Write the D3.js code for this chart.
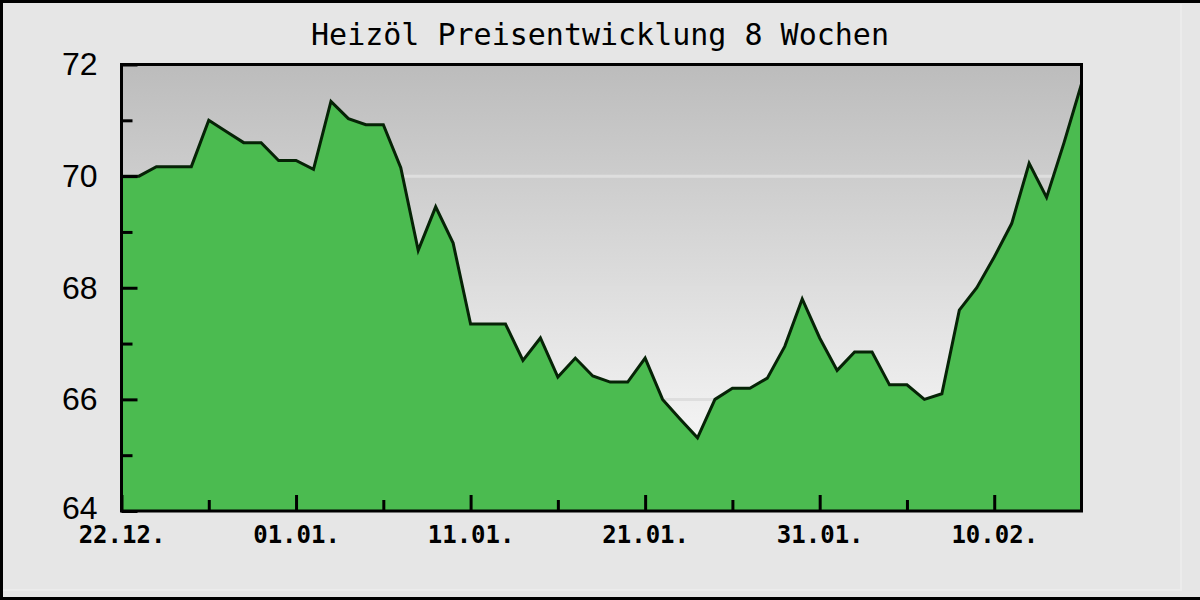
<!DOCTYPE html>
<html>
<head>
<meta charset="utf-8">
<script src="https://cdn.jsdelivr.net/npm/d3@7"></script>
<style>
  html, body { margin: 0; padding: 0; background: #e6e6e6; overflow: hidden; }
</style>
</head>
<body>
<div id="chart"></div>
<script>
const title = 'Heizöl Preisentwicklung 8 Wochen'

// Tage (8 Wochen) und Heizölpreise
const days = [
  '2012-12-22', '2012-12-23', '2012-12-24', '2012-12-25', '2012-12-26', '2012-12-27', '2012-12-28',
  '2012-12-29', '2012-12-30', '2012-12-31', '2013-01-01', '2013-01-02', '2013-01-03', '2013-01-04',
  '2013-01-05', '2013-01-06', '2013-01-07', '2013-01-08', '2013-01-09', '2013-01-10', '2013-01-11',
  '2013-01-12', '2013-01-13', '2013-01-14', '2013-01-15', '2013-01-16', '2013-01-17', '2013-01-18',
  '2013-01-19', '2013-01-20', '2013-01-21', '2013-01-22', '2013-01-23', '2013-01-24', '2013-01-25',
  '2013-01-26', '2013-01-27', '2013-01-28', '2013-01-29', '2013-01-30', '2013-01-31', '2013-02-01',
  '2013-02-02', '2013-02-03', '2013-02-04', '2013-02-05', '2013-02-06', '2013-02-07', '2013-02-08',
  '2013-02-09', '2013-02-10', '2013-02-11', '2013-02-12', '2013-02-13', '2013-02-14', '2013-02-15'
]
const prices = [
  70.00, 70.00, 70.17, 70.17, 70.17, 71.00, 70.80,
  70.60, 70.60, 70.28, 70.28, 70.12, 71.34, 71.03,
  70.92, 70.92, 70.15, 68.67, 69.45, 68.80, 67.35,
  67.35, 67.35, 66.70, 67.10, 66.40, 66.74, 66.42,
  66.31, 66.31, 66.74, 66.00, 65.65, 65.31, 66.00,
  66.20, 66.20, 66.38, 66.95, 67.80, 67.10, 66.52,
  66.85, 66.85, 66.26, 66.26, 66.00, 66.10, 67.60,
  68.00, 68.55, 69.15, 70.23, 69.62, 70.60, 71.65
]

const yTicks = [64, 66, 68, 70, 72]
const yMinorTicks = [65, 67, 69, 71]
const yGrid = [66, 68, 70]
const xTicks = ['2012-12-22', '2013-01-01', '2013-01-11', '2013-01-21', '2013-01-31', '2013-02-10']
const xMinorTicks = ['2012-12-27', '2013-01-06', '2013-01-16', '2013-01-26', '2013-02-05']

const width = 1200
const height = 600
const plot = { left: 121.5, top: 64.5, right: 1081.5, bottom: 511 }

const parse = d3.timeParse('%Y-%m-%d')
const data = days.map((d, i) => ({ date: parse(d), value: prices[i] }))

const svg = d3.select('#chart')
  .append('svg')
  .attr('width', width)
  .attr('height', height)

// Rahmen des Bildes
svg.append('rect')
  .attr('width', width)
  .attr('height', height)
  .style('fill', '#e6e6e6')
svg.append('path')
  .attr('d', `M1181,4 V590 H3`)
  .style('fill', 'none')
  .style('stroke', '#ececec')
  .style('stroke-width', '2px')
svg.append('path')
  .attr('d', `M${width},1.5 H1.5 V598.5 H${width}`)
  .style('fill', 'none')
  .style('stroke', '#000')
  .style('stroke-width', '3px')

// Titel
svg.append('text')
  .attr('x', 600)
  .attr('y', 45)
  .attr('text-anchor', 'middle')
  .style('font-family', '"DejaVu Sans Mono", monospace')
  .style('font-size', '30px')
  .style('fill', '#000')
  .text(title)

const x = d3.scaleTime()
  .domain([parse(days[0]), parse(days[days.length - 1])])
  .range([plot.left, plot.right])
const y = d3.scaleLinear()
  .domain([64, 72])
  .range([plot.bottom, plot.top])

// Hintergrund mit Verlauf
const grad = svg.append('defs')
  .append('linearGradient')
  .attr('id', 'bg')
  .attr('x1', 0).attr('y1', 0).attr('x2', 0).attr('y2', 1)
grad.append('stop').attr('offset', '0%').attr('stop-color', '#bcbcbc')
grad.append('stop').attr('offset', '100%').attr('stop-color', '#ffffff')

svg.append('rect')
  .attr('x', plot.left)
  .attr('y', plot.top)
  .attr('width', plot.right - plot.left)
  .attr('height', plot.bottom - plot.top)
  .style('fill', 'url(#bg)')

// Gitterlinien
svg.append('g')
  .selectAll('line')
  .data(yGrid)
  .join('line')
  .attr('x1', plot.left)
  .attr('x2', plot.right)
  .attr('y1', d => y(d))
  .attr('y2', d => y(d))
  .style('stroke', '#dedede')
  .style('stroke-width', '3px')

// Fläche und Linie
const area = d3.area()
  .x(d => x(d.date))
  .y0(y(64))
  .y1(d => y(d.value))
const line = d3.line()
  .x(d => x(d.date))
  .y(d => y(d.value))

svg.append('path')
  .attr('d', area(data))
  .style('fill', '#4bbb50')
svg.append('path')
  .attr('d', line(data))
  .style('fill', 'none')
  .style('stroke', '#062306')
  .style('stroke-width', '3px')
  .style('stroke-linejoin', 'miter')

// Achsen
const fmt = d3.timeFormat('%d.%m.')
const xAxis = d3.axisBottom(x)
  .tickValues(xTicks.map(parse))
  .tickFormat(fmt)
  .tickSize(-16)
  .tickPadding(15)
const xMinor = d3.axisBottom(x)
  .tickValues(xMinorTicks.map(parse))
  .tickFormat('')
  .tickSize(-11)
const yAxis = d3.axisLeft(y)
  .tickValues(yTicks)
  .tickFormat(d3.format('d'))
  .tickSize(-16)
  .tickPadding(24)
const yMinor = d3.axisLeft(y)
  .tickValues(yMinorTicks)
  .tickFormat('')
  .tickSize(-11)

const gx = svg.append('g')
  .attr('transform', `translate(0, ${plot.bottom})`)
  .call(xAxis)
const gxm = svg.append('g')
  .attr('transform', `translate(0, ${plot.bottom})`)
  .call(xMinor)
const gy = svg.append('g')
  .attr('transform', `translate(${plot.left}, 0)`)
  .call(yAxis)
const gym = svg.append('g')
  .attr('transform', `translate(${plot.left}, 0)`)
  .call(yMinor)

;[gx, gxm, gy, gym].forEach(g => {
  g.select('.domain').remove()
  g.selectAll('.tick line')
    .style('stroke', '#000')
    .style('stroke-width', '3px')
})
gx.selectAll('text')
  .style('font-family', '"DejaVu Sans Mono", monospace')
  .style('font-size', '24px')
  .style('font-weight', 'bold')
  .style('fill', '#000')
gy.selectAll('text')
  .style('font-family', '"Liberation Sans", Arial, sans-serif')
  .style('font-size', '32px')
  .style('fill', '#000')
// unterste Beschriftung etwas anheben, damit sie nicht in das Datum läuft
gy.selectAll('.tick')
  .filter(d => d === 64)
  .select('text')
  .attr('dy', '0.22em')

// Rahmen des Diagramms
svg.append('rect')
  .attr('x', plot.left)
  .attr('y', plot.top)
  .attr('width', plot.right - plot.left)
  .attr('height', plot.bottom - plot.top)
  .style('fill', 'none')
  .style('stroke', '#000')
  .style('stroke-width', '3px')
</script>
</body>
</html>
